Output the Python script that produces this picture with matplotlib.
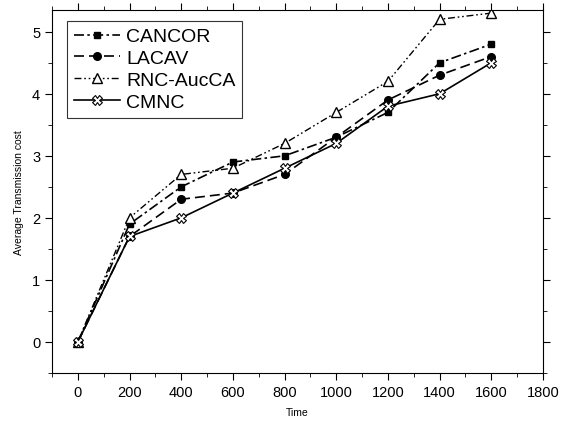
import matplotlib
matplotlib.use("Agg")
import matplotlib.pyplot as plt
from matplotlib.ticker import MultipleLocator

plt.rcParams['font.family'] = ['Liberation Sans', 'DejaVu Sans']

time = [0, 200, 400, 600, 800, 1000, 1200, 1400, 1600]
cancor = [0, 1.9, 2.5, 2.9, 3.0, 3.3, 3.7, 4.5, 4.8]
lacav = [0, 1.7, 2.3, 2.4, 2.7, 3.3, 3.9, 4.3, 4.6]
rnc = [0, 2.0, 2.7, 2.8, 3.2, 3.7, 4.2, 5.2, 5.3]
cmnc = [0, 1.7, 2.0, 2.4, 2.8, 3.2, 3.8, 4.0, 4.5]

fig = plt.figure(figsize=(5.64, 4.27), dpi=100)
ax = fig.add_axes([52/564, 1-374/427, (543-52)/564, (374-11)/427])

ax.plot(time, cancor, color='black', linestyle=(0, (6, 2, 1.5, 2)), lw=1.2,
        marker='s', ms=5, label='CANCOR')
ax.plot(time, lacav, color='black', linestyle=(0, (6, 3)), lw=1.2,
        marker='o', ms=5.5, label='LACAV')
ax.plot(time, rnc, color='black', linestyle=(0, (5, 2, 1.2, 2, 1.2, 2)), lw=1.0,
        marker='^', ms=7, mfc='white', mec='black', label='RNC-AucCA')
ax.plot(time, cmnc, color='black', linestyle='-', lw=1.2,
        marker='X', ms=6.5, mfc='white', mec='black', mew=0.8, label='CMNC')

ax.set_xlim(-100, 1800)
ax.set_ylim(-0.5, 5.35)
ax.xaxis.set_major_locator(MultipleLocator(200))
ax.xaxis.set_minor_locator(MultipleLocator(100))
ax.yaxis.set_major_locator(MultipleLocator(1))
ax.yaxis.set_minor_locator(MultipleLocator(0.5))
ax.tick_params(which='both', direction='out', top=True, right=True,
               labeltop=False, labelright=False, labelsize=10.5)
ax.tick_params(which='major', length=5)
ax.tick_params(which='minor', length=3)
ax.set_xlabel('Time', fontsize=7.5, labelpad=6)
ax.set_ylabel('Average Transmission cost', fontsize=7.5, labelpad=6)

leg = ax.legend(loc='upper left', bbox_to_anchor=(0.03, 0.97), fontsize=14,
                frameon=True, fancybox=False, edgecolor='black',
                handlelength=2.4, handletextpad=0.3, labelspacing=0.22,
                borderpad=0.35, borderaxespad=0)
leg.get_frame().set_linewidth(0.8)

fig.savefig('out.png', dpi=100)
